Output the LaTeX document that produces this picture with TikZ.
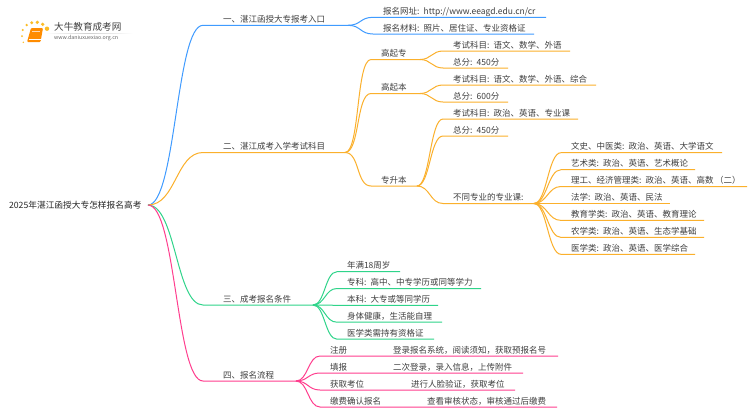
\documentclass[tikz,border=0pt]{standalone}
\usepackage{fontspec}
\setmainfont{Noto Sans CJK SC}
\usetikzlibrary{shadings}
\definecolor{cblue}{HTML}{3F9BFF}
\definecolor{corange}{HTML}{FBB02C}
\definecolor{cgreen}{HTML}{2FD48A}
\definecolor{cpink}{HTML}{FF3E8E}
\definecolor{ctext}{HTML}{3F3F3F}
\newcommand{\lnk}[4]{\draw[#1] (#2.south east) .. controls +(#4,0) and +(-#4,0) .. (#3.south west) -- (#3.south east);}
\tikzset{
  x=1pt,y=-1pt,
  txt/.style={font=\fontsize{8.5}{10}\selectfont,text=ctext,text height=7.6pt,text depth=1.4pt,inner ysep=1.6pt,outer sep=0pt,align=left,anchor=south west},
  oneline/.style={execute at begin node=\hbox\bgroup,execute at end node=\egroup},
  leaf/.style={txt,oneline,inner xsep=10pt,/utils/exec={\pgfmathsetmacro\tw{#1-20}},text width=\tw pt},
  branch/.style={txt,oneline,inner xsep=20pt,/utils/exec={\pgfmathsetmacro\tw{#1-40}},text width=\tw pt},
  conn/.style={line width=1pt},
}
\begin{document}
\begin{tikzpicture}
\useasboundingbox (0,0) rectangle (750,410);
\fill[white] (0,0) rectangle (750,410);
% logo
\foreach \px/\py/\r in {47/28.7/2.2,42.7/24.3/1.8,37.3/22.3/1.8,31.7/22.7/1.6,26.7/25/1.3,22.7/30/1.1,22/36/1,23.3/42.3/.8}
  {\fill[corange!85!yellow] (\px,\py) circle (\r);}
\fill[left color=white,right color=white,middle color=black!18] (45,33) rectangle (133,33.6);
\fill[orange!90!yellow,rounded corners=1pt] (31,28) -- (43,28) -- (40.5,42) -- (27,42) -- cycle;
\draw[white,line width=.5pt] (29,39.5) -- (40.5,39.5);
\draw[white!70!orange,line width=.5pt] (32,31) -- (40,31);
\node[inner sep=0pt,anchor=west,font=\fontsize{9.6}{11}\selectfont,text=black!75] (logotitle) at (54,27) {大牛教育成考网};
\node[inner sep=0pt,anchor=west,font=\fontsize{5.3}{6}\selectfont,text=black!60] (logourl) at (54,38.5) {www.daniuxuexiao.org.cn};
% root
\node[txt,font=\fontsize{8.7}{10}\selectfont,text=black!85,anchor=east,inner xsep=6.5pt,inner ysep=0pt] (root) at (148,205) {2025年湛江函授大专怎样报名高考};
% level 1
\node[branch=145] (b1) at (203,25.3) {一、湛江函授大专报考入口};
\node[branch=142] (b2) at (203,152.5) {二、湛江成考入学考试科目};
\node[branch=110] (b3) at (203,305) {三、成考报名条件};
\node[branch=93] (b4) at (203,381) {四、报名流程};
\foreach \n/\c in {b1/cblue,b2/corange,b3/cgreen,b4/cpink}
  {\draw[conn,\c] (root.east) .. controls +(28,0) and +(-27,0) .. (\n.south west) -- (\n.south east);}
% blue leaves
\node[leaf=173] (a1) at (373,17.3) {报名网址: http://www.eeagd.edu.cn/cr};
\node[leaf=161] (a2) at (373,34) {报名材料: 照片、居住证、专业资格证};
\lnk{conn,cblue}{b1}{a1}{13}
\lnk{conn,cblue}{b1}{a2}{13}
% orange
\node[leaf=49] (g1) at (371,59.5) {高起专};
\node[leaf=49] (g2) at (371,93.5) {高起本};
\node[leaf=46] (g3) at (371,186) {专升本};
\lnk{conn,corange}{b2}{g1}{15}
\lnk{conn,corange}{b2}{g2}{15}
\lnk{conn,corange}{b2}{g3}{15}
\node[leaf=127] (g11) at (443,51) {考试科目: 语文、数学、外语};
\node[leaf=65] (g12) at (443,68) {总分: 450分};
\lnk{conn,corange}{g1}{g11}{11}
\lnk{conn,corange}{g1}{g12}{11}
\node[leaf=153] (g21) at (443,85) {考试科目: 语文、数学、外语、综合};
\node[leaf=65] (g22) at (443,102) {总分: 600分};
\lnk{conn,corange}{g2}{g21}{11}
\lnk{conn,corange}{g2}{g22}{11}
\node[leaf=135] (g31) at (443,119) {考试科目: 政治、英语、专业课};
\node[leaf=65] (g32) at (443,136) {总分: 450分};
\node[leaf=91] (g33) at (443,203.5) {不同专业的专业课:};
\lnk{conn,corange}{g3}{g31}{13}
\lnk{conn,corange}{g3}{g32}{13}
\lnk{conn,corange}{g3}{g33}{13}
\node[leaf=161] (s1) at (561,152.7) {文史、中医类: 政治、英语、大学语文};
\node[leaf=134] (s2) at (561,169.7) {艺术类: 政治、英语、艺术概论};
\node[leaf=186] (s3) at (561,186.5) {理工、经济管理类: 政治、英语、高数\hspace{1.5pt}（二）};
\node[leaf=109] (s4) at (561,203.5) {法学: 政治、英语、民法};
\node[leaf=143] (s5) at (561,220.4) {教育学类: 政治、英语、教育理论};
\node[leaf=143] (s6) at (561,237.4) {农学类: 政治、英语、生态学基础};
\node[leaf=134] (s7) at (561,254.3) {医学类: 政治、英语、医学综合};
\foreach \n in {s1,s2,s3,s4,s5,s6,s7}
  {\lnk{conn,corange}{g33}{\n}{13}}
% green
\node[leaf=63] (c1) at (337,271.7) {年满18周岁};
\node[leaf=144] (c2) at (337,288.5) {专科: 高中、中专学历或同等学力};
\node[leaf=101] (c3) at (337,305.3) {本科: 大专或等同学历};
\node[leaf=105] (c4) at (337,322.2) {身体健康，生活能自理};
\node[leaf=97] (c5) at (337,339.2) {医学类需持有资格证};
\foreach \n in {c1,c2,c3,c4,c5}
  {\lnk{conn,cgreen}{b3}{\n}{12}}
% pink
\node[leaf=238] (p1) at (320,356) {\makebox[63pt][l]{注册}登录报名系统，阅读须知，获取预报名号};
\node[leaf=203] (p2) at (320,373) {\makebox[63pt][l]{填报}二次登录，录入信息，上传附件};
\node[leaf=195] (p3) at (320,390) {\makebox[81pt][l]{获取考位}进行人脸验证，获取考位};
\node[leaf=237] (p4) at (320,407) {\makebox[97pt][l]{缴费确认报名}查看审核状态，审核通过后缴费};
\foreach \n in {p1,p2,p3,p4}
  {\lnk{conn,cpink}{b4}{\n}{12}}
\end{tikzpicture}
\end{document}
